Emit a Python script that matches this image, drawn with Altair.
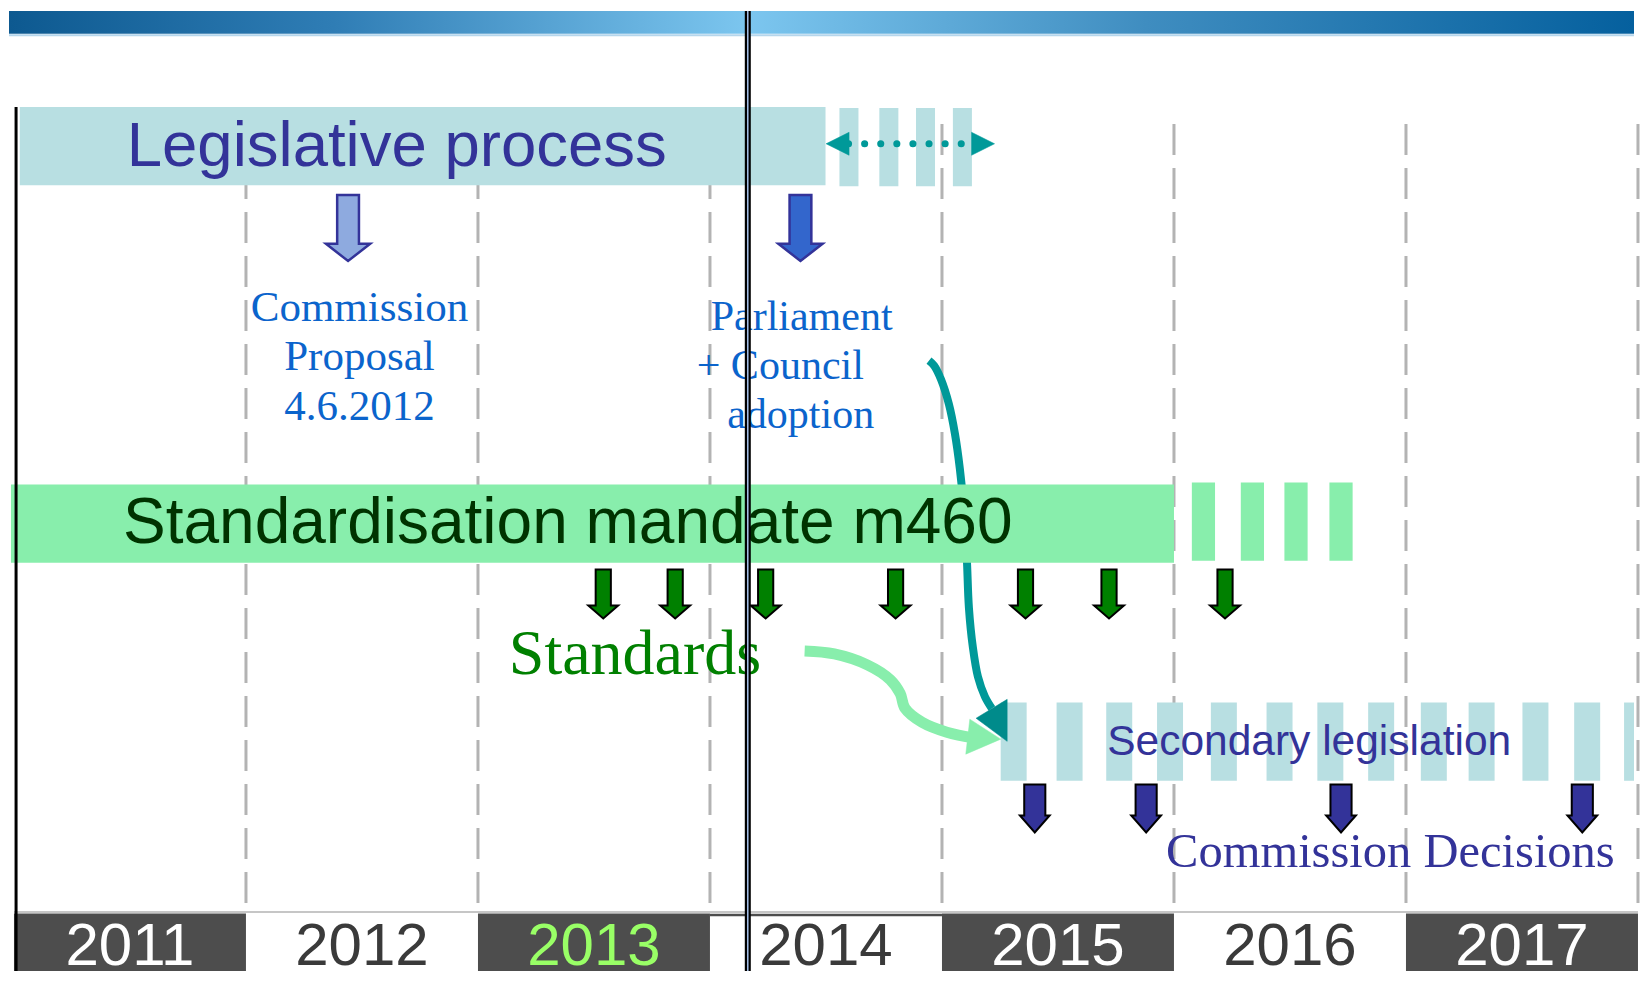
import altair as alt
import pandas as pd

# ---------------- data ----------------
years = [2011, 2012, 2013, 2014, 2015, 2016, 2017]
year_labels = ["2011", "2012", "2013", "2014", "2015", "2016", "2017"]
year_band_fill = ["#4d4d4d", "#ffffff", "#4d4d4d", "#ffffff", "#4d4d4d", "#ffffff", "#4d4d4d"]
year_text_color = ["#ffffff", "#3a3a3a", "#99ff66", "#3a3a3a", "#ffffff", "#3a3a3a", "#ffffff"]
year_boundaries = [2012, 2013, 2014, 2015, 2016, 2017, 2018]

legislative_start = 2011.025
legislative_end = 2014.498
legislative_dash_starts = [2014.558, 2014.730, 2014.888, 2015.047]
legislative_dash_width = 0.082
negotiation_span = [2014.50, 2015.227]      # dotted double arrow
negotiation_dots = [2014.597, 2015.133]

mandate_start = 2010.987
mandate_end = 2016.0
mandate_dash_starts = [2016.077, 2016.288, 2016.476, 2016.670]
mandate_dash_width = 0.10

secondary_starts = [2015.253, 2015.494, 2015.708, 2015.927, 2016.159, 2016.399,
                    2016.618, 2016.837, 2017.064, 2017.270, 2017.502, 2017.725, 2017.940]
secondary_width = 0.112

proposal_date = 2012.44          # 4.6.2012
adoption_date = 2014.39
standards_dates = [2013.54, 2013.85, 2014.24, 2014.80, 2015.36, 2015.72, 2016.22]
decision_dates = [2015.40, 2015.88, 2016.72, 2017.76]
today = 2014.163
left_edge = 2011.009

# curved connectors (x in years, y in picture rows)
teal_curve_x = [2014.944, 2014.966, 2014.996, 2015.030, 2015.056, 2015.077, 2015.094,
                2015.107, 2015.116, 2015.133, 2015.155, 2015.185, 2015.215]
teal_curve_y = [361, 366, 380, 405, 435, 470, 510, 560, 610, 650, 680, 700, 712]
green_curve_x = [2014.408, 2014.536, 2014.678, 2014.777, 2014.820, 2014.841, 2014.914,
                 2015.021, 2015.142]
green_curve_y = [654, 657, 668, 683, 697, 712, 726, 736, 742]

# ---------------- scales ----------------
X0 = 2011 + (8 - 13) / 233
X1 = 2011 + (1640 - 13) / 233
xs = alt.Scale(domain=[X0, X1], nice=False, zero=False)
ys = alt.Scale(domain=[8, 977], reverse=True, nice=False, zero=False)


def X(f="x"):
    return alt.X(f"{f}:Q", scale=xs, axis=None)


def Y(f="y"):
    return alt.Y(f"{f}:Q", scale=ys, axis=None)


def rects(x, x2, y, y2, **mark):
    df = pd.DataFrame({"x": x, "x2": x2, "y": [y] * len(x), "y2": [y2] * len(x)})
    return alt.Chart(df).mark_rect(**mark).encode(x=X(), x2="x2:Q", y=Y(), y2="y2:Q")


def vrule(x, y, y2, **mark):
    df = pd.DataFrame({"x": x, "y": [y] * len(x), "y2": [y2] * len(x)})
    return alt.Chart(df).mark_rule(**mark).encode(x=X(), y=Y(), y2="y2:Q")


def hrule(x, x2, y, **mark):
    df = pd.DataFrame({"x": [x], "x2": [x2], "y": [y]})
    return alt.Chart(df).mark_rule(**mark).encode(x=X(), x2="x2:Q", y=Y())


def texts(xs_, ys_, labels, **mark):
    df = pd.DataFrame({"x": xs_, "y": ys_, "t": labels})
    return alt.Chart(df).mark_text(baseline="alphabetic", **mark).encode(x=X(), y=Y(), text="t:N")


def arrow_path(shaft, head, neck):
    return (f"M {-shaft} -1 L {shaft} -1 L {shaft} {neck} L {head} {neck} "
            f"L 0 1 L {-head} {neck} L {-shaft} {neck} Z")


def symbols(x, y, shape, size, fill, stroke, sw):
    df = pd.DataFrame({"x": x, "y": [y] * len(x)})
    return alt.Chart(df).mark_point(
        shape=shape, size=size, filled=True, fill=fill, stroke=stroke,
        strokeWidth=sw, opacity=1, fillOpacity=1, strokeOpacity=1
    ).encode(x=X(), y=Y())


def curve(cx, cy, color, width):
    df = pd.DataFrame({"x": cx, "y": cy, "i": list(range(len(cx)))})
    return alt.Chart(df).mark_line(color=color, strokeWidth=width, strokeJoin="round",
                                   interpolate="catmull-rom").encode(
        x=X(), y=Y(), order="i:Q")


SANS = "Liberation Sans"
SERIF = "Liberation Serif"
TEAL = "#009999"
LIGHT_TEAL = "#b8dfe2"
MINT = "#88eeac"
INDIGO = "#333399"

layers = []

# banner
banner = {
    "gradient": "linear", "x1": 0, "x2": 1, "y1": 0, "y2": 0,
    "stops": [
        {"offset": 0.0, "color": "#0d5990"},
        {"offset": 0.2, "color": "#2f7db5"},
        {"offset": 0.455, "color": "#7cc6ef"},
        {"offset": 0.7, "color": "#3f8dc0"},
        {"offset": 1.0, "color": "#05609e"},
    ],
}
layers.append(rects([X0], [X1], 8, 31, color=banner))
layers.append(hrule(X0, X1, 32.5, color="#b5d6ec", strokeWidth=2))

# dashed year grid
layers.append(vrule(year_boundaries, 122, 917, color="#b3b3b3", strokeWidth=3, strokeDash=[31, 13]))
layers.append(hrule(2011, 2018, 917.5, color="#b3b3b3", strokeWidth=1.5))

# year bands
band_df = pd.DataFrame({"x": years, "x2": [y + 1 for y in years], "y": 919, "y2": 977,
                        "c": year_band_fill})
layers.append(alt.Chart(band_df).mark_rect().encode(
    x=X(), x2="x2:Q", y=Y(), y2="y2:Q", color=alt.Color("c:N", scale=None)))
layers.append(hrule(2014, 2015, 920.5, color="#4d4d4d", strokeWidth=2.5))
ylab_df = pd.DataFrame({"x": [y + 0.5 for y in years], "y": 971, "t": year_labels, "c": year_text_color})
layers.append(alt.Chart(ylab_df).mark_text(font=SANS, fontSize=60, align="center",
                                            baseline="alphabetic").encode(
    x=X(), y=Y(), text="t:N", color=alt.Color("c:N", scale=None)))

# legislative process bar
layers.append(rects([legislative_start], [legislative_end], 105, 184, color=LIGHT_TEAL))
layers.append(rects(legislative_dash_starts,
                    [s + legislative_dash_width for s in legislative_dash_starts],
                    106, 185, color=LIGHT_TEAL))
layers.append(hrule(negotiation_dots[0], negotiation_dots[1], 142, color=TEAL, strokeWidth=7,
                    strokeDash=[0.1, 16], strokeCap="round"))
layers.append(symbols([negotiation_span[0] + 0.05], 142, "M 1 -1 L -1 0 L 1 1 Z", 529, TEAL, TEAL, 0.5))
layers.append(symbols([negotiation_span[1] - 0.05], 142, "M -1 -1 L 1 0 L -1 1 Z", 529, TEAL, TEAL, 0.5))
layers.append(texts([2011.486], [164], ["Legislative process"], font=SANS, fontSize=63.5,
                    color=INDIGO, align="left"))

# teal connector (passes under the mandate bar)
layers.append(curve(teal_curve_x, teal_curve_y, TEAL, 8))

# standardisation mandate bar
layers.append(rects([mandate_start], [mandate_end], 486, 565, color=MINT))
layers.append(rects(mandate_dash_starts, [s + mandate_dash_width for s in mandate_dash_starts],
                    484, 563, color=MINT))
layers.append(texts([2011.470], [545], ["Standardisation mandate m460"], font=SANS, fontSize=64,
                    color="#003300", align="left"))

# secondary legislation bar
layers.append(rects(secondary_starts, [min(s + secondary_width, X1) for s in secondary_starts],
                    706, 785, color=LIGHT_TEAL))
layers.append(texts([2015.712], [759], ["Secondary legislation"], font=SANS, fontSize=42.5,
                    color=INDIGO, align="left"))

# arrowheads of connectors
layers.append(symbols([2015.214], 724, "M -0.74 -0.1 L 0.74 -1 L 0.74 1 Z", 1764, "#008b8b", "#008b8b", 0.5))
layers.append(curve(green_curve_x, green_curve_y, MINT, 11))
layers.append(symbols([2015.178], 740.5, "M -1 1 L -0.77 -1 L 1 0.14 Z", 1225, MINT, MINT, 0.5))

# milestone arrows
layers.append(symbols([proposal_date], 227, arrow_path(0.33, 0.67, 0.48), 4356, "#8eaadf", INDIGO, 2.5))
layers.append(symbols([adoption_date], 227, arrow_path(0.33, 0.67, 0.48), 4356, "#3366cc", INDIGO, 2.5))
layers.append(symbols(standards_dates, 596.5, arrow_path(0.31, 0.61, 0.47), 2401, "#008000", "#000000", 2))
layers.append(symbols(decision_dates, 813, arrow_path(0.44, 0.62, 0.29), 2304, INDIGO, "#000000", 2))

# annotation texts
layers.append(texts([2012.489] * 3, [321, 370, 421], ["Commission", "Proposal", "4.6.2012"],
                    font=SERIF, fontSize=43, color="#0b64cc", align="center"))
layers.append(texts([2014.395, 2014.303, 2014.391], [330, 379, 429],
                    ["Parliament", "+ Council", "adoption"],
                    font=SERIF, fontSize=42, color="#0b64cc", align="center"))
layers.append(texts([2013.133], [677], ["Standards"], font=SERIF, fontSize=64,
                    color="#008000", align="left"))
layers.append(texts([2015.966], [872], ["Commission Decisions"], font=SERIF, fontSize=48.5,
                    color=INDIGO, align="left"))

# left axis line and "today" line
layers.append(vrule([left_edge], 105, 977, color="#000000", strokeWidth=3))
layers.append(vrule([today], 8, 977, color="#000000", strokeWidth=6))
layers.append(vrule([today], 8, 977, color="#a9c4ef", strokeWidth=1.5))

chart = alt.layer(*layers).properties(
    width=1632, height=969, padding=0,
    autosize=alt.AutoSizeParams(type="fit", contains="padding"),
    background="white",
).configure_view(stroke=None)

chart.save("out.html", embed_options={"renderer": "svg", "actions": False})
